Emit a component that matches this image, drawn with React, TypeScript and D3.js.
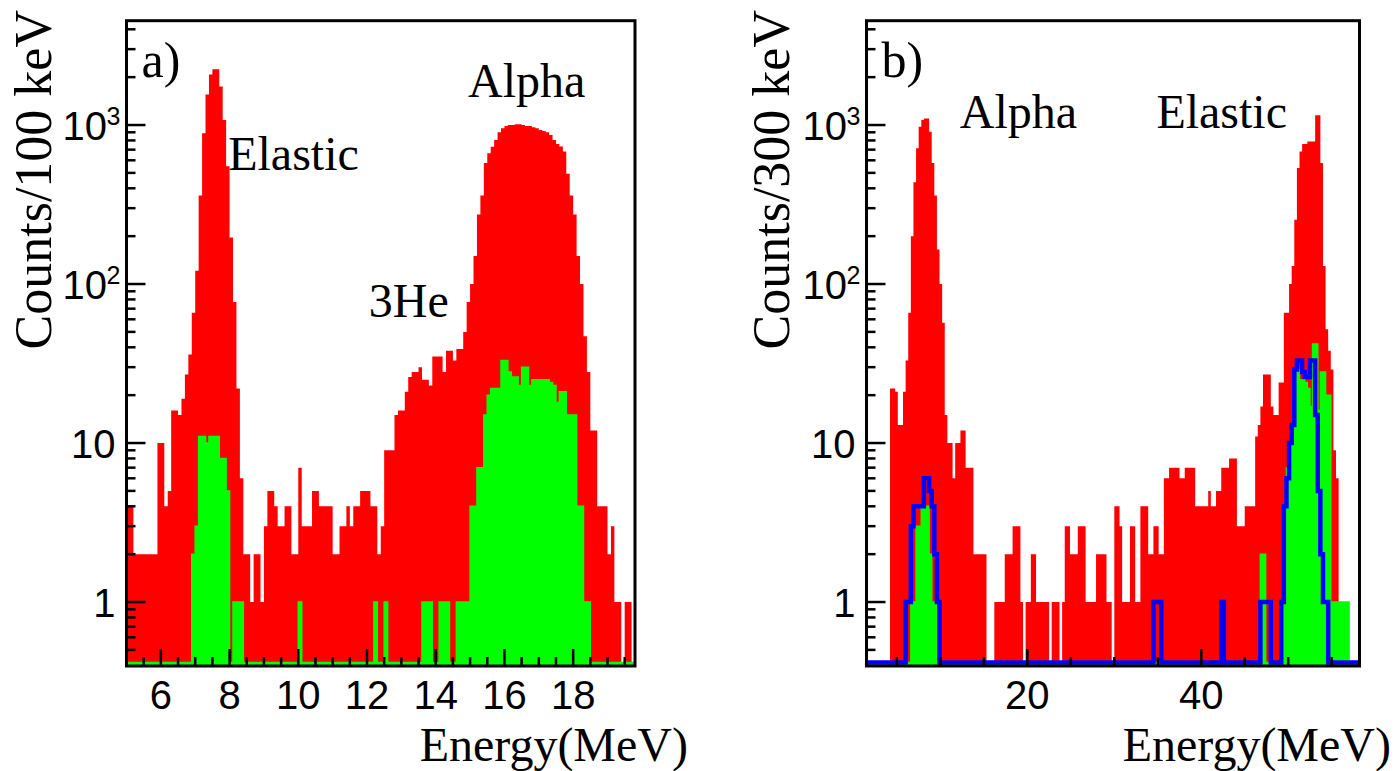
import React from 'react';
import * as d3 from 'd3';

// ---------------- data ----------------
// Panel a: 100 keV bins starting at 5.0 MeV
const binStartA = 5.0;
const binWidthA = 0.1;
const redA = [
  4, 4, 2, 2, 2, 2, 2, 2, 2, 10,
  10, 4, 5, 16, 16, 15, 19, 27, 36, 66,
  121, 360, 887, 1555, 2080, 2240, 2240, 1750, 1075, 550,
  196, 77, 22, 6, 2, 2, 1, 2, 2, 1,
  3, 5, 5, 4, 3, 3, 4, 4, 2, 2,
  7, 3, 3, 3, 5, 5, 4, 4, 4, 4,
  2, 2, 3, 3, 4, 3, 4, 4, 5, 5,
  5, 4, 4, 2, 3, 9, 9, 9, 15, 16,
  16, 21, 26, 28, 28, 30, 25, 25, 23, 35,
  35, 35, 28, 38, 38, 33, 39, 39, 50, 77,
  100, 150, 274, 360, 576, 665, 730, 806, 900, 953,
  986, 1000, 1000, 1010, 1010, 1000, 986, 986, 970, 953,
  930, 917, 900, 866, 806, 760, 732, 681, 494, 360,
  274, 150, 100, 47, 28, 12, 12, 4, 4, 4,
  2, 3, 1, 1, 0, 1, 1, 0,
];
const greenA = [
  0, 0, 0, 0, 0, 0, 0, 0, 0, 0,
  0, 0, 0, 0, 0, 0, 0, 0, 0, 2,
  3, 11, 11, 10, 11, 11, 11, 8, 8, 5,
  0, 1, 1, 1, 0, 0, 0, 0, 0, 0,
  0, 0, 0, 0, 0, 0, 0, 0, 0, 0,
  1, 0, 0, 0, 0, 0, 0, 0, 0, 0,
  0, 0, 0, 0, 0, 0, 0, 0, 0, 0,
  0, 0, 1, 0, 0, 1, 0, 0, 0, 0,
  0, 0, 0, 0, 0, 0, 1, 1, 1, 0,
  0, 1, 1, 1, 0, 0, 1, 1, 1, 1,
  4, 4, 7, 7, 15, 20, 22, 22, 22, 33,
  33, 28, 26, 26, 23, 30, 30, 23, 25, 25,
  25, 25, 25, 24, 23, 18, 21, 21, 15, 15,
  15, 4, 4, 1, 1, 0, 0, 0, 0, 0,
  0, 0, 0, 0, 0, 0, 0, 0,
];

// Panel b: 300 keV bins starting at 1.5 MeV
const binStartB = 1.5;
const binWidthB = 0.3;
const redB = [
  0, 0, 0, 0, 0, 0, 0, 0, 0, 22,
  22, 21, 13, 13, 21, 33, 66, 200, 436, 715,
  976, 1075, 1100, 1100, 908, 576, 360, 165, 100, 57,
  15, 10, 10, 6, 10, 10, 12, 12, 7, 7,
  7, 2, 2, 2, 2, 2, 0, 0, 0, 1,
  1, 1, 1, 2, 2, 2, 3, 3, 3, 1,
  0, 1, 1, 2, 2, 1, 1, 1, 1, 1,
  0, 1, 1, 1, 0, 1, 3, 3, 2, 2,
  2, 3, 3, 3, 1, 1, 1, 1, 2, 2,
  2, 2, 1, 1, 0, 4, 4, 3, 1, 1,
  1, 3, 3, 1, 1, 4, 4, 4, 2, 2,
  3, 3, 2, 2, 6, 6, 7, 7, 7, 7,
  6, 6, 7, 7, 7, 7, 4, 4, 4, 4,
  4, 5, 4, 4, 5, 5, 7, 7, 7, 8,
  8, 8, 3, 3, 3, 4, 4, 4, 4, 11,
  13, 17, 27, 27, 27, 17, 15, 15, 24, 24,
  66, 66, 100, 130, 254, 536, 681, 760, 760, 787,
  787, 787, 1150, 1150, 576, 130, 52, 38, 29, 9,
  6, 0, 0, 0, 0, 0, 0, 0, 0,
];
const greenB = [
  0, 0, 0, 0, 0, 0, 0, 0, 0, 0,
  0, 0, 0, 0, 0, 0, 0, 1, 1, 3,
  3, 4, 4, 4, 2, 1, 1, 0, 0, 0,
  0, 0, 0, 0, 0, 0, 0, 0, 0, 0,
  0, 0, 0, 0, 0, 0, 0, 0, 0, 0,
  0, 0, 0, 0, 0, 0, 0, 0, 0, 0,
  0, 0, 0, 0, 0, 0, 0, 0, 0, 0,
  0, 0, 0, 0, 0, 0, 0, 0, 0, 0,
  0, 0, 0, 0, 0, 0, 0, 0, 0, 0,
  0, 0, 0, 0, 0, 0, 0, 0, 0, 0,
  0, 0, 0, 0, 0, 0, 0, 0, 0, 0,
  0, 0, 0, 0, 0, 0, 0, 0, 0, 0,
  0, 0, 0, 0, 0, 0, 0, 0, 0, 0,
  0, 0, 0, 0, 0, 0, 0, 0, 0, 0,
  0, 0, 0, 0, 0, 0, 0, 0, 0, 0,
  0, 2, 2, 0, 0, 0, 0, 0, 0, 1,
  4, 7, 10, 10, 26, 29, 25, 25, 24, 22,
  17, 42, 42, 16, 28, 28, 20, 20, 1, 1,
  1, 1, 1, 1, 1, 0, 0, 0, 0,
];
const blueB = [
  0, 0, 0, 0, 0, 0, 0, 0, 0, 0,
  0, 0, 0, 0, 0, 1, 1, 3, 4, 4,
  4, 4, 6, 6, 5, 4, 2, 1, 0, 0,
  0, 0, 0, 0, 0, 0, 0, 0, 0, 0,
  0, 0, 0, 0, 0, 0, 0, 0, 0, 0,
  0, 0, 0, 0, 0, 0, 0, 0, 0, 0,
  0, 0, 0, 0, 0, 0, 0, 0, 0, 0,
  0, 0, 0, 0, 0, 0, 0, 0, 0, 0,
  0, 0, 0, 0, 0, 0, 0, 0, 0, 0,
  0, 0, 0, 0, 0, 0, 0, 0, 0, 0,
  0, 0, 0, 0, 0, 0, 0, 0, 0, 0,
  1, 1, 1, 0, 0, 0, 0, 0, 0, 0,
  0, 0, 0, 0, 0, 0, 0, 0, 0, 0,
  0, 0, 0, 0, 0, 0, 1, 0, 0, 0,
  0, 0, 0, 0, 0, 0, 0, 0, 0, 0,
  0, 1, 1, 1, 1, 0, 0, 0, 0, 1,
  4, 6, 10, 13, 29, 33, 33, 28, 26, 26,
  33, 33, 15, 5, 2, 1, 1, 0, 0, 0,
  0, 0, 0, 0, 0, 0, 0, 0, 0,
];

// axis ticks / labels
const xLabelsA = [6, 8, 10, 12, 14, 16, 18];
const xLabelsB = [20, 40];
const yLabelValues = [1, 10, 100, 1000];
const yTitles = ['Counts/100 keV', 'Counts/300 keV'];
const xTitle = 'Energy(MeV)';
const panelTags = ['a)', 'b)'];
const annotationsA = [
  { text: 'Elastic', e: 7.96, v: 520 },
  { text: 'Alpha', e: 14.94, v: 1500 },
  { text: '3He', e: 12.05, v: 62 },
];
const annotationsB = [
  { text: 'Alpha', e: 12.23, v: 957 },
  { text: 'Elastic', e: 34.84, v: 957 },
];

// ---------------- styling / layout ----------------
const W = 1395;
const H = 771;
const Y_MIN = 0.396;
const Y_MAX = 4530;
const SERIF = "'Liberation Serif', 'Times New Roman', Times, serif";
const SANS = "'Liberation Sans', Arial, Helvetica, sans-serif";

type Panel = {
  key: string;
  left: number; right: number; top: number; bottom: number;
  xMin: number; xMax: number;
  binStart: number; binWidth: number;
  red: number[]; green: number[]; blue: number[] | null;
  labels: number[]; minorStep: number;
  yTitle: string; yTitleX: number;
  tag: string;
  annotations: { text: string; e: number; v: number }[];
  xTitleRight: number;
};

const panels: Panel[] = [
  {
    key: 'a', left: 126.5, right: 635, top: 20.7, bottom: 666,
    xMin: 5.0, xMax: 19.8, binStart: binStartA, binWidth: binWidthA,
    red: redA, green: greenA, blue: null,
    labels: xLabelsA, minorStep: 0.5,
    yTitle: yTitles[0], yTitleX: 51, tag: panelTags[0],
    annotations: annotationsA, xTitleRight: 688,
  },
  {
    key: 'b', left: 866.5, right: 1359.5, top: 20.7, bottom: 666,
    xMin: 1.5, xMax: 58.2, binStart: binStartB, binWidth: binWidthB,
    red: redB, green: greenB, blue: blueB,
    labels: xLabelsB, minorStep: 5,
    yTitle: yTitles[1], yTitleX: 789, tag: panelTags[1],
    annotations: annotationsB, xTitleRight: 1391,
  },
];

function stepPoints(vals: number[], start: number, width: number,
  x: d3.ScaleLinear<number, number>, y: d3.ScaleLogarithmic<number, number>, zeroY: number) {
  const pts: [number, number][] = [];
  vals.forEach((v, i) => {
    const x0 = x(start + i * width);
    const x1 = x(start + (i + 1) * width);
    const yy = v > 0 ? y(v) : zeroY;
    pts.push([x0, yy], [x1, yy]);
  });
  return pts;
}

function PanelView({ p }: { p: Panel }) {
  const x = d3.scaleLinear().domain([p.xMin, p.xMax]).range([p.left, p.right]);
  const y = d3.scaleLog().domain([Y_MIN, Y_MAX]).range([p.bottom, p.top]);
  const zeroY = p.bottom - 3.5;
  const area = d3.area<[number, number]>().x(d => d[0]).y0(p.bottom).y1(d => d[1]);
  const line = d3.line<[number, number]>().x(d => d[0]).y(d => d[1]);

  const redPts = stepPoints(p.red, p.binStart, p.binWidth, x, y, zeroY);
  const greenPts = stepPoints(p.green, p.binStart, p.binWidth, x, y, zeroY);
  const bluePts = p.blue ? stepPoints(p.blue, p.binStart, p.binWidth, x, y, p.bottom - 3.5) : null;

  // y ticks
  const yTicks: { v: number; major: boolean }[] = [];
  for (let k = -1; k <= 3; k++) {
    for (let m = 1; m <= 9; m++) {
      const v = m * Math.pow(10, k);
      if (v > Y_MIN * 1.02 && v < Y_MAX) yTicks.push({ v, major: m === 1 });
    }
  }
  // x ticks
  const xTicks: { v: number; major: boolean }[] = [];
  const first = Math.ceil(p.xMin / p.minorStep) * p.minorStep;
  for (let v = first; v < p.xMax - 1e-6; v += p.minorStep) {
    const vv = Math.round(v * 1000) / 1000;
    xTicks.push({ v: vv, major: p.labels.includes(vv) });
  }
  const clipId = `clip-${p.key}`;

  return (
    <g>
      <defs>
        <clipPath id={clipId}>
          <rect x={p.left} y={p.top} width={p.right - p.left} height={p.bottom - p.top} />
        </clipPath>
      </defs>
      <g clipPath={`url(#${clipId})`}>
        <path d={area(redPts) || ''} fill="#ff0000" stroke="none" />
        <path d={area(greenPts) || ''} fill="#00ff00" stroke="none" />
        <path d={line(greenPts) || ''} fill="none" stroke="#00ff00" strokeWidth={1.5} />
        {bluePts && (
          <path d={line(bluePts) || ''} fill="none" stroke="#0000ff" strokeWidth={4.5} strokeLinejoin="miter" />
        )}
      </g>
      {/* ticks */}
      {yTicks.map((t, i) => (
        <line key={`yt${i}`} x1={p.left} x2={p.left + (t.major ? 19 : 9)} y1={y(t.v)} y2={y(t.v)}
          stroke="#000" strokeWidth={2.5} />
      ))}
      {xTicks.map((t, i) => (
        <line key={`xt${i}`} x1={x(t.v)} x2={x(t.v)} y1={p.bottom} y2={p.bottom - (t.major ? 17 : 9)}
          stroke="#000" strokeWidth={2.5} />
      ))}
      {/* frame */}
      <rect x={p.left} y={p.top} width={p.right - p.left} height={p.bottom - p.top}
        fill="none" stroke="#000" strokeWidth={3} />
      {/* y labels */}
      {yLabelValues.map((v) => {
        const yy = y(v);
        if (v < 100) {
          return (
            <text key={`yl${v}`} x={p.left - 11} y={yy + 14.5} textAnchor="end"
              fontFamily={SANS} fontSize={40}>{String(v)}</text>
          );
        }
        const exp = Math.round(Math.log10(v));
        return (
          <g key={`yl${v}`}>
            <text x={p.left - 19.5} y={yy + 14.5} textAnchor="end" fontFamily={SANS} fontSize={40}>10</text>
            <text x={p.left - 20} y={yy} textAnchor="start" fontFamily={SANS} fontSize={25}>{String(exp)}</text>
          </g>
        );
      })}
      {/* x labels */}
      {p.labels.map((v) => (
        <text key={`xl${v}`} x={x(v)} y={709} textAnchor="middle" fontFamily={SANS} fontSize={40}>{String(v)}</text>
      ))}
      {/* titles */}
      <text x={p.xTitleRight} y={761} textAnchor="end" fontFamily={SERIF} fontSize={48}>{xTitle}</text>
      <text transform={`translate(${p.yTitleX},10) rotate(-90)`} textAnchor="end" fontFamily={SERIF} fontSize={52}>{p.yTitle}</text>
      <text x={p.left + 15} y={77} fontFamily={SERIF} fontSize={50}>{p.tag}</text>
      {p.annotations.map((a) => (
        <text key={a.text} x={x(a.e)} y={y(a.v)} fontFamily={SERIF} fontSize={48}>{a.text}</text>
      ))}
    </g>
  );
}

export default function App() {
  return (
    <svg width={W} height={H} viewBox={`0 0 ${W} ${H}`}
      style={{ position: 'absolute', left: 0, top: 0, background: '#fff' }}>
      <rect x={0} y={0} width={W} height={H} fill="#fff" />
      {panels.map((p) => <PanelView key={p.key} p={p} />)}
    </svg>
  );
}
